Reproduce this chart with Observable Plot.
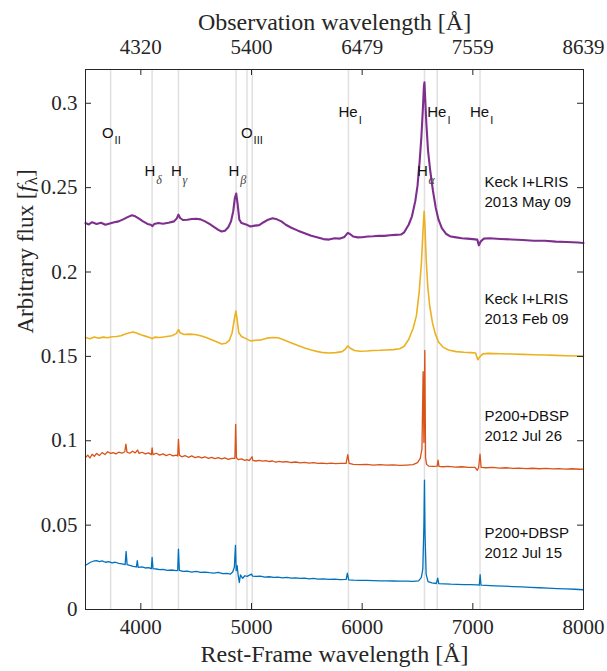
<!DOCTYPE html>
<html>
<head>
<meta charset="utf-8">
<script src="https://cdn.jsdelivr.net/npm/d3@7"></script>
<script src="https://cdn.jsdelivr.net/npm/@observablehq/plot@0.6"></script>
<style>
  body { margin: 0; background: white; }
</style>
</head>
<body>
<div id="chart"></div>
<script>
// ---------- data ----------
const restTicks = [4000, 5000, 6000, 7000, 8000];
const obsTickLabels = ["4320", "5400", "6479", "7559", "8639"];
const fluxTicks = [0, 0.05, 0.1, 0.15, 0.2, 0.25, 0.3];

const lineLam = [3727, 4102, 4340, 4861, 4959, 5007, 5876, 6563, 6678, 7065];

const lineLabelLam = [3727, 4102, 4340, 4861, 4983, 5876, 6563, 6678, 7065];
const lineLabelMain = ["O", "H", "H", "H", "O", "He", "H", "He", "He"];
const lineLabelSub = ["II", "δ", "γ", "β", "III", "I", "α", "I", "I"];
const lineLabelFlux = [0.2824, 0.2598, 0.2598, 0.2598, 0.2824, 0.2947, 0.2598, 0.2947, 0.2947];

const epochLabels = ["Keck I+LRIS\n2013 May 09", "Keck I+LRIS\n2013 Feb 09", "P200+DBSP\n2012 Jul 26", "P200+DBSP\n2012 Jul 15"];
const epochLabelLam = [7105, 7105, 7105, 7105];
const epochLabelFlux = [0.2480, 0.1790, 0.1095, 0.0402];

// Keck I+LRIS 2013 May 09
const may09 = [
[3500,0.2290],[3530,0.2282],[3560,0.2295],[3600,0.2285],[3640,0.2292],[3680,0.2280],[3720,0.2288],[3760,0.2295],
[3800,0.2300],[3840,0.2312],[3880,0.2325],[3920,0.2336],[3950,0.2330],[3980,0.2318],[4020,0.2300],[4060,0.2285],
[4090,0.2280],[4105,0.2272],[4120,0.2284],[4160,0.2290],[4200,0.2286],[4250,0.2292],[4300,0.2300],[4325,0.2318],
[4340,0.2340],[4355,0.2320],[4380,0.2308],[4420,0.2310],[4460,0.2314],[4500,0.2316],[4540,0.2312],[4580,0.2300],
[4620,0.2285],[4660,0.2268],[4700,0.2250],[4730,0.2240],[4760,0.2245],[4790,0.2265],[4815,0.2300],[4835,0.2360],
[4850,0.2440],[4862,0.2465],[4875,0.2400],[4890,0.2310],[4910,0.2290],[4950,0.2282],[4990,0.2270],[5030,0.2275],
[5070,0.2278],[5110,0.2295],[5150,0.2310],[5190,0.2318],[5230,0.2312],[5270,0.2300],[5310,0.2280],[5360,0.2262],
[5420,0.2245],[5480,0.2230],[5540,0.2215],[5600,0.2205],[5650,0.2195],[5700,0.2192],[5750,0.2200],[5800,0.2198],
[5840,0.2208],[5870,0.2232],[5890,0.2225],[5920,0.2210],[5960,0.2205],[6000,0.2206],[6050,0.2210],[6100,0.2212],
[6150,0.2215],[6200,0.2214],[6250,0.2218],[6300,0.2220],[6350,0.2222],[6380,0.2235],[6420,0.2280],[6450,0.2330],
[6480,0.2420],[6500,0.2510],[6520,0.2660],[6535,0.2800],[6548,0.2960],[6558,0.3100],[6563,0.3124],[6568,0.3050],
[6580,0.2880],[6595,0.2720],[6615,0.2600],[6640,0.2480],[6665,0.2380],[6690,0.2310],[6720,0.2260],[6760,0.2225],
[6800,0.2210],[6850,0.2205],[6900,0.2200],[6950,0.2198],[7000,0.2195],[7040,0.2192],[7055,0.2158],[7070,0.2180],
[7100,0.2198],[7150,0.2200],[7250,0.2196],[7350,0.2193],[7450,0.2190],[7550,0.2185],[7650,0.2185],[7750,0.2180],
[7850,0.2178],[7950,0.2175],[8000,0.2172]
];

// Keck I+LRIS 2013 Feb 09
const feb09 = [
[3500,0.1612],[3540,0.1605],[3580,0.1615],[3620,0.1608],[3660,0.1614],[3700,0.1610],[3740,0.1616],[3780,0.1618],
[3820,0.1622],[3860,0.1632],[3900,0.1640],[3930,0.1645],[3960,0.1638],[4000,0.1628],[4040,0.1620],[4080,0.1612],
[4105,0.1605],[4125,0.1614],[4170,0.1612],[4220,0.1616],[4280,0.1622],[4320,0.1635],[4340,0.1658],[4355,0.1640],
[4390,0.1630],[4440,0.1632],[4490,0.1630],[4540,0.1622],[4590,0.1612],[4640,0.1598],[4690,0.1585],[4730,0.1573],
[4770,0.1578],[4800,0.1595],[4825,0.1640],[4845,0.1720],[4858,0.1768],[4870,0.1720],[4885,0.1640],[4910,0.1618],
[4950,0.1605],[4990,0.1592],[5040,0.1596],[5090,0.1598],[5140,0.1608],[5190,0.1612],[5240,0.1610],[5290,0.1598],
[5350,0.1582],[5420,0.1565],[5480,0.1550],[5540,0.1538],[5600,0.1528],[5650,0.1522],[5700,0.1520],[5760,0.1522],
[5820,0.1528],[5850,0.1545],[5870,0.1562],[5890,0.1550],[5930,0.1535],[5980,0.1530],[6040,0.1532],[6100,0.1535],
[6160,0.1536],[6220,0.1538],[6280,0.1540],[6340,0.1545],[6380,0.1560],[6420,0.1600],[6460,0.1665],[6490,0.1740],
[6515,0.1880],[6535,0.2050],[6550,0.2250],[6560,0.2360],[6567,0.2280],[6578,0.2080],[6592,0.1920],[6610,0.1800],
[6635,0.1700],[6660,0.1635],[6690,0.1585],[6730,0.1555],[6780,0.1538],[6850,0.1528],[6920,0.1524],[6980,0.1522],
[7025,0.1520],[7045,0.1480],[7060,0.1495],[7090,0.1515],[7140,0.1518],[7250,0.1516],[7350,0.1514],[7450,0.1512],
[7550,0.1510],[7650,0.1508],[7750,0.1506],[7850,0.1504],[7950,0.1502],[8000,0.1500]
];

// P200+DBSP 2012 Jul 26
const jul26 = [
[3500,0.0900],[3520,0.0915],[3540,0.0898],[3560,0.0920],[3580,0.0908],[3600,0.0925],[3625,0.0912],[3650,0.0930],
[3675,0.0918],[3700,0.0935],[3727,0.0925],[3750,0.0930],[3775,0.0922],[3800,0.0932],[3830,0.0926],[3855,0.0935],
[3865,0.0980],[3875,0.0932],[3900,0.0926],[3925,0.0938],[3950,0.0928],[3970,0.0945],[3985,0.0925],[4010,0.0932],
[4040,0.0922],[4070,0.0928],[4095,0.0918],[4102,0.0958],[4110,0.0918],[4140,0.0926],[4170,0.0915],[4200,0.0922],
[4230,0.0912],[4260,0.0920],[4290,0.0910],[4320,0.0915],[4333,0.0910],[4340,0.1008],[4348,0.0915],[4370,0.0905],
[4400,0.0912],[4430,0.0902],[4460,0.0910],[4490,0.0900],[4520,0.0906],[4550,0.0898],[4580,0.0905],[4610,0.0896],
[4640,0.0902],[4670,0.0894],[4700,0.0900],[4730,0.0892],[4760,0.0898],[4790,0.0890],[4820,0.0896],[4850,0.0895],
[4857,0.1097],[4864,0.0900],[4880,0.0888],[4910,0.0892],[4940,0.0884],[4959,0.0888],[4980,0.0882],[5005,0.0905],
[5012,0.0884],[5040,0.0880],[5070,0.0884],[5100,0.0879],[5130,0.0882],[5160,0.0877],[5190,0.0880],[5220,0.0874],
[5250,0.0878],[5280,0.0874],[5320,0.0876],[5360,0.0871],[5400,0.0874],[5440,0.0869],[5480,0.0872],[5520,0.0867],
[5560,0.0870],[5600,0.0866],[5640,0.0868],[5680,0.0865],[5720,0.0867],[5760,0.0864],[5800,0.0866],[5855,0.0866],
[5870,0.0918],[5882,0.0866],[5920,0.0860],[5980,0.0858],[6040,0.0860],[6100,0.0856],[6160,0.0858],[6220,0.0855],
[6280,0.0857],[6340,0.0854],[6400,0.0856],[6460,0.0858],[6500,0.0870],[6525,0.0895],[6540,0.0950],[6551,0.1410],
[6558,0.0990],[6566,0.1535],[6573,0.0900],[6582,0.0860],[6600,0.0850],[6640,0.0848],[6678,0.0850],[6686,0.0885],
[6694,0.0848],[6730,0.0846],[6780,0.0848],[6840,0.0844],[6900,0.0846],[6960,0.0842],[7020,0.0842],[7040,0.0825],
[7052,0.0840],[7065,0.0920],[7075,0.0842],[7120,0.0840],[7180,0.0842],[7240,0.0838],[7300,0.0840],[7360,0.0836],
[7420,0.0838],[7480,0.0835],[7540,0.0837],[7600,0.0834],[7660,0.0836],[7720,0.0833],[7780,0.0835],[7840,0.0832],
[7900,0.0834],[7960,0.0831],[8000,0.0832]
];

// P200+DBSP 2012 Jul 15
const jul15 = [
[3500,0.0262],[3520,0.0270],[3545,0.0280],[3570,0.0286],[3600,0.0290],[3625,0.0284],[3650,0.0288],[3680,0.0280],
[3710,0.0284],[3740,0.0276],[3770,0.0280],[3800,0.0274],[3830,0.0270],[3858,0.0266],[3867,0.0344],[3876,0.0266],
[3900,0.0262],[3930,0.0256],[3960,0.0252],[3968,0.0290],[3976,0.0250],[4010,0.0252],[4040,0.0246],[4070,0.0248],
[4095,0.0242],[4102,0.0309],[4110,0.0242],[4140,0.0240],[4170,0.0236],[4200,0.0238],[4240,0.0232],[4280,0.0234],
[4320,0.0230],[4333,0.0232],[4340,0.0358],[4348,0.0232],[4380,0.0226],[4420,0.0228],[4460,0.0222],[4500,0.0226],
[4540,0.0220],[4580,0.0222],[4620,0.0218],[4660,0.0216],[4700,0.0220],[4740,0.0212],[4780,0.0214],[4810,0.0210],
[4830,0.0222],[4845,0.0250],[4855,0.0380],[4862,0.0230],[4870,0.0260],[4880,0.0200],[4890,0.0160],[4900,0.0205],
[4920,0.0185],[4940,0.0200],[4960,0.0196],[5000,0.0210],[5010,0.0198],[5040,0.0196],[5080,0.0198],[5120,0.0192],
[5160,0.0194],[5200,0.0190],[5240,0.0192],[5280,0.0188],[5320,0.0190],[5360,0.0186],[5400,0.0188],[5440,0.0184],
[5480,0.0186],[5520,0.0182],[5560,0.0184],[5600,0.0180],[5650,0.0182],[5700,0.0178],[5750,0.0180],[5800,0.0177],
[5856,0.0178],[5866,0.0216],[5878,0.0176],[5920,0.0174],[5980,0.0173],[6040,0.0172],[6100,0.0171],[6160,0.0170],
[6220,0.0170],[6280,0.0169],[6340,0.0168],[6400,0.0168],[6460,0.0167],[6510,0.0170],[6535,0.0190],[6548,0.0240],
[6558,0.0500],[6563,0.0766],[6568,0.0450],[6578,0.0210],[6595,0.0165],[6630,0.0158],[6670,0.0154],[6683,0.0186],
[6692,0.0153],[6740,0.0152],[6800,0.0150],[6860,0.0149],[6920,0.0148],[6980,0.0147],[7040,0.0146],[7058,0.0144],
[7066,0.0206],[7074,0.0144],[7120,0.0143],[7200,0.0140],[7280,0.0138],[7360,0.0136],[7440,0.0134],[7520,0.0131],
[7600,0.0129],[7680,0.0127],[7760,0.0124],[7840,0.0122],[7920,0.0120],[8000,0.0117]
];

// ---------- chart ----------
const W = 607, H = 671;
const mL = 85, mR = 24, mT = 69, mB = 62;
const fw = W - mL - mR, fh = H - mT - mB;
const tickLen = 6;
const mainWidth = {"O": 12.5, "H": 11.6, "He": 20.2};
const mainDx = {"O": -8.5, "H": -7.5, "He": -10};
const greek = "δγβα";
const labelIdx = lineLabelLam.map((d, i) => i);
const epochIdx = epochLabels.map((d, i) => i);

const serif = "Liberation Serif, Times New Roman, serif";
const sans = "Liberation Sans, Arial, sans-serif";

// line-name labels: one group of marks per main symbol (constant offsets)
const labelMarks = [];
for (const m of ["O", "H", "He"]) {
  const idx = labelIdx.filter(i => lineLabelMain[i] === m);
  labelMarks.push(Plot.text(idx, {x: i => lineLabelLam[i], y: i => lineLabelFlux[i], text: i => lineLabelMain[i],
    textAnchor: "start", dx: mainDx[m], fontFamily: sans, fontSize: 15, fill: "#111"}));
  const rom = idx.filter(i => !greek.includes(lineLabelSub[i]));
  const grk = idx.filter(i => greek.includes(lineLabelSub[i]));
  if (rom.length) labelMarks.push(Plot.text(rom, {x: i => lineLabelLam[i], y: i => lineLabelFlux[i],
    text: i => lineLabelSub[i], textAnchor: "start", dx: mainDx[m] + mainWidth[m], dy: 8,
    fontFamily: sans, fontSize: 11, fill: "#111"}));
  if (grk.length) labelMarks.push(Plot.text(grk, {x: i => lineLabelLam[i], y: i => lineLabelFlux[i],
    text: i => lineLabelSub[i], textAnchor: "start", dx: mainDx[m] + mainWidth[m], dy: 9,
    fontFamily: serif, fontStyle: "italic", fontSize: 12, fill: "#444"}));
}

const chart = Plot.plot({
  width: W, height: H,
  marginLeft: mL, marginRight: mR, marginTop: mT, marginBottom: mB,
  x: {domain: [3500, 8000]},
  y: {domain: [0, 0.32]},
  style: {fontFamily: serif, background: "white", color: "#262626"},
  marks: [
    Plot.ruleX(lineLam, {x: d => d, stroke: "#e0e0e0", strokeWidth: 1.5}),
    Plot.line(jul15, {x: d => d[0], y: d => d[1], stroke: "#0072BD", strokeWidth: 1.3}),
    Plot.line(jul26, {x: d => d[0], y: d => d[1], stroke: "#D95319", strokeWidth: 1.3}),
    Plot.line(feb09, {x: d => d[0], y: d => d[1], stroke: "#EDB120", strokeWidth: 1.6}),
    Plot.line(may09, {x: d => d[0], y: d => d[1], stroke: "#7E2F8E", strokeWidth: 2.1}),
    ...labelMarks,
    // epoch labels
    Plot.text(epochIdx, {x: i => epochLabelLam[i], y: i => epochLabelFlux[i], text: i => epochLabels[i],
      textAnchor: "start", lineHeight: 1.333, fontFamily: sans, fontSize: 15, fill: "#111"}),
    // frame and ticks
    Plot.frame({stroke: "#262626", strokeWidth: 1}),
    Plot.ruleX(restTicks, {x: d => d, insetTop: fh - tickLen, stroke: "#262626"}),
    Plot.ruleX(restTicks, {x: d => d, insetBottom: fh - tickLen, stroke: "#262626"}),
    Plot.ruleY(fluxTicks, {y: d => d, insetRight: fw - tickLen, stroke: "#262626"}),
    Plot.ruleY(fluxTicks, {y: d => d, insetLeft: fw - tickLen, stroke: "#262626"}),
    Plot.axisX(restTicks, {anchor: "bottom", tickSize: 0, tickPadding: 10, fontSize: 21, label: null,
      fontFamily: serif, tickFormat: d => String(d)}),
    Plot.axisX(restTicks, {anchor: "top", tickSize: 0, tickPadding: 16, fontSize: 21, label: null,
      fontFamily: serif, tickFormat: d => obsTickLabels[restTicks.indexOf(d)]}),
    Plot.axisY(fluxTicks, {anchor: "left", tickSize: 0, tickPadding: 8, fontSize: 21, label: null,
      fontFamily: serif, tickFormat: d => String(+d.toFixed(2))}),
    // titles
    Plot.text(["Rest-Frame wavelength [Å]"], {frameAnchor: "bottom", dy: 52, fontSize: 24, fontFamily: serif, fill: "#262626"}),
    Plot.text(["Observation wavelength [Å]"], {frameAnchor: "top", dy: -57, fontSize: 24, fontFamily: serif, fill: "#262626"}),
    Plot.text(["Arbitrary flux [fλ]"], {frameAnchor: "left", rotate: -90, dx: -60, dy: -6, fontSize: 23, fontFamily: serif, fill: "#262626"})
  ]
});

document.getElementById("chart").appendChild(chart);

// italic f with subscript λ in the y-axis title
d3.select(chart).selectAll("text").each(function() {
  const t = d3.select(this);
  if (t.text() === "Arbitrary flux [fλ]") {
    t.text(null);
    t.append("tspan").text("Arbitrary flux [");
    t.append("tspan").attr("font-style", "italic").text("f");
    t.append("tspan").attr("font-size", "0.75em").attr("dy", "0.25em").text("λ");
    t.append("tspan").attr("dy", "-0.19em").text("]");
  }
});
</script>
</body>
</html>
